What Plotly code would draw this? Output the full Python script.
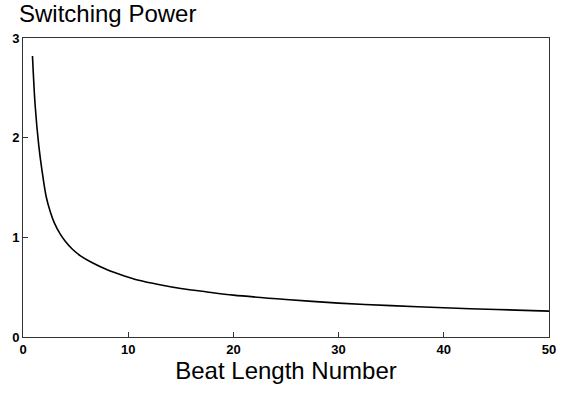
import plotly.graph_objects as go

beat_length = [0.9, 1.15, 1.5, 1.8, 2.2, 2.6, 3, 3.5, 4, 4.7, 5.5, 6.5, 8, 9.5, 11, 13, 15, 17.5, 20, 25, 30, 35, 40, 45, 50]
switching_power = [2.82, 2.33, 1.92, 1.675, 1.41, 1.255, 1.14, 1.04, 0.963, 0.88, 0.812, 0.75, 0.675, 0.618, 0.57, 0.525, 0.487, 0.452, 0.42, 0.377, 0.34, 0.315, 0.293, 0.276, 0.26]

x_ticks = [0, 10, 20, 30, 40, 50]
y_ticks = [0, 1, 2, 3]

fig = go.Figure()
fig.add_trace(go.Scatter(x=beat_length, y=switching_power, mode="lines",
                         line=dict(color="black", width=1.6, shape="spline", smoothing=0.8),
                         showlegend=False))

axis_common = dict(showgrid=False, zeroline=False, showline=True, linecolor="#333", linewidth=1,
                   mirror=True, ticks="inside", ticklen=5, tickcolor="#333",
                   tickfont=dict(family="Liberation Sans", size=13, color="black", weight="bold"))

fig.update_layout(
    width=567, height=397,
    margin=dict(l=23, r=11, t=38, b=60),
    paper_bgcolor="white", plot_bgcolor="white",
    title=dict(text="Switching Power", x=19/567, xanchor="left", xref="container",
               y=1-14/397, yanchor="middle", yref="container",
               font=dict(family="Liberation Sans", size=24, color="black")),
    xaxis=dict(range=[0, 50], tickvals=x_ticks,
               title=dict(text="Beat Length Number", standoff=6,
                          font=dict(family="Liberation Sans", size=24, color="black")),
               **axis_common),
    yaxis=dict(range=[0, 3], tickvals=y_ticks, **axis_common),
)

fig.write_html("out.html")
